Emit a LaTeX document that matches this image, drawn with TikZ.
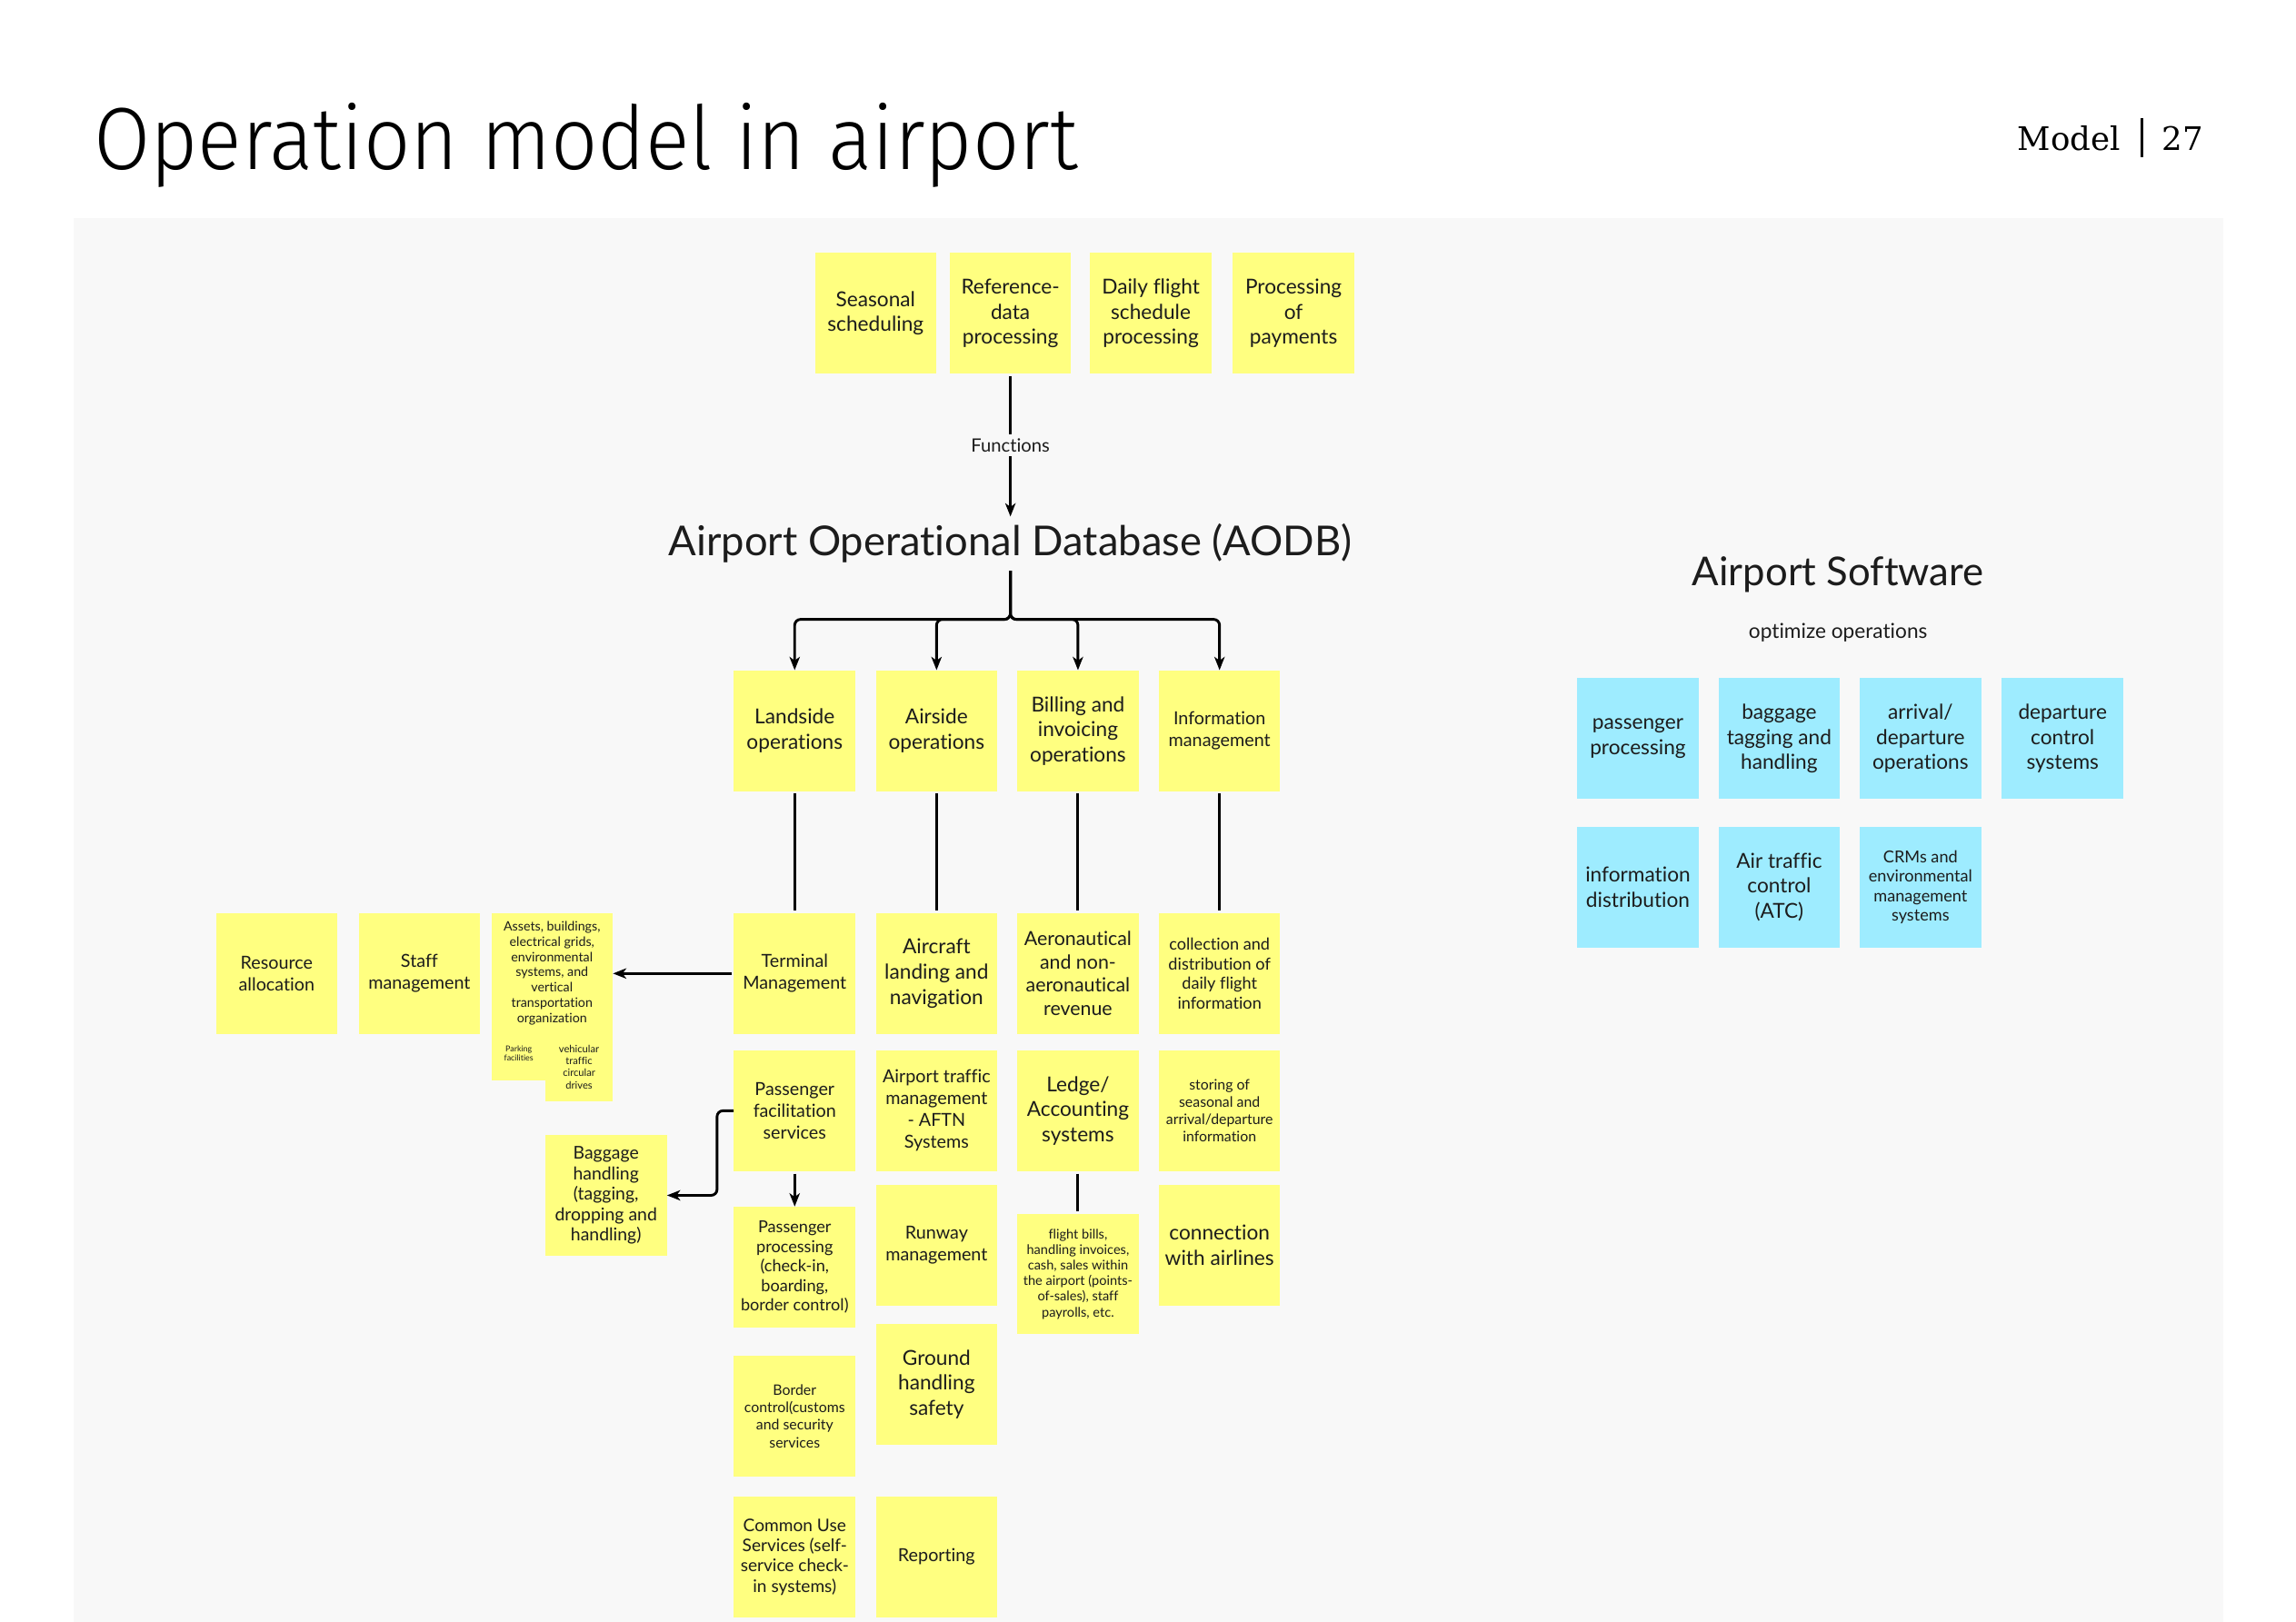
\documentclass[tikz,border=0pt]{standalone}
\usepackage{fontspec}
\setmainfont{Lato}[Ligatures=NoCommon]
\newfontfamily\headfont[FakeStretch=0.928]{Fira Sans Light}
\newfontfamily\pagefont{DejaVu Serif}
\usetikzlibrary{positioning,arrows.meta}

\definecolor{stickyyellow}{RGB}{255,255,128}
\definecolor{stickyblue}{RGB}{158,236,255}
\definecolor{panelgray}{RGB}{248,248,248}
\definecolor{ink}{RGB}{28,28,28}

\newcommand{\fs}[2]{\fontsize{#1}{#2}\selectfont}

\tikzset{
	sticky/.style={fill=stickyyellow, minimum width=82.5pt, minimum height=82pt, inner sep=0pt, align=center, text=ink},
	softbox/.style={sticky, fill=stickyblue},
	fA/.style={font=\fs{14}{17}},
	fB/.style={font=\fs{12.2}{14.8}},
	fC/.style={font=\fs{11.2}{13.3}},
	fD/.style={font=\fs{9.8}{11.8}},
	fE/.style={font=\fs{8.8}{10.4}},
	link/.style={line width=1.8pt, shorten <=1.5pt, shorten >=1.5pt},
	arr/.style={line width=1.8pt, shorten <=1.5pt, -{Stealth[length=9pt,width=7pt,inset=2.5pt]}},
}

\begin{document}
\begin{tikzpicture}[x=1pt, y=-1pt]
	\useasboundingbox (0,0) rectangle (1560.2,1102.5);
	\fill[panelgray] (50,148) rectangle (1510.5,1102.5);

	% header
	\node[anchor=base west, inner sep=0pt, font=\headfont\fontsize{60}{60}\selectfont] (title) at (63.5,115) {Operation model in airport};
	\node[anchor=base east, inner sep=0pt, font=\pagefont\fontsize{22}{22}\selectfont] (model) at (1441,102) {Model};
	\node[anchor=base west, inner sep=0pt, font=\pagefont\fontsize{22}{22}\selectfont] (page) at (1469,102) {27};
	\draw[line width=1.8pt] (1455.6,80) -- (1455.6,107);

	% functions
	\node[sticky, fA] (seas) at (595,213) {Seasonal\\scheduling};
	\node[sticky, fA] (refd) at (686.6,213) {Reference-\\data\\processing};
	\node[sticky, fA] (daily) at (782,213) {Daily flight\\schedule\\processing};
	\node[sticky, fA] (pay) at (879,213) {Processing\\of\\payments};

	\node[anchor=base, inner sep=5pt, text=ink, font=\fs{28}{30}] (aodb) at (686.6,378) {Airport Operational Database (AODB)};

	% operations
	\node[sticky, fA] (land) at (540,496.7) {Landside\\operations};
	\node[sticky, fA] (airs) at (636.4,496.7) {Airside\\operations};
	\node[sticky, fA] (bill) at (732.5,496.7) {Billing and\\invoicing\\operations};
	\node[sticky, fB] (infm) at (828.7,496.7) {Information\\management};

	\node[sticky, fB] (term) at (540,661.7) {Terminal\\Management};
	\node[sticky, fA] (acft) at (636.4,661.7) {Aircraft\\landing and\\navigation};
	\node[sticky, font=\fs{13.2}{15.8}] (aero) at (732.5,661.7) {Aeronautical\\and non-\\aeronautical\\revenue};
	\node[sticky, fC] (coll) at (828.7,661.7) {collection and\\distribution of\\daily flight\\information};

	\node[sticky, fB] (res) at (188,661.7) {Resource\\allocation};
	\node[sticky, fB] (staff) at (285,661.7) {Staff\\management};
	\node[sticky, minimum height=113.6pt] (assetsbg) at (375.1,677.6) {};
	\node[text=ink, align=center, inner sep=0pt, fE] (assets) at (375.1,661.5) {Assets, buildings,\\electrical grids,\\environmental\\systems, and\\vertical\\transportation\\organization};
	\node[text=ink, align=center, inner sep=0pt, font=\fs{5.5}{6.4}] (park) at (352.5,716.2) {Parking\\facilities};
	\node[sticky, minimum width=45.6pt, minimum height=46.4pt, font=\fs{6.9}{8.2}] (veh) at (393.5,725.2) {vehicular\\traffic\\circular\\drives};

	\node[sticky, fB] (pfac) at (540,755) {Passenger\\facilitation\\services};
	\node[sticky, fB] (atm) at (636.4,755) {Airport traffic\\management\\- AFTN\\Systems};
	\node[sticky, fA] (ledg) at (732.5,755) {Ledge/\\Accounting\\systems};
	\node[sticky, fD] (stor) at (828.7,755) {storing of\\seasonal and\\arrival/departure\\information};

	\node[sticky, font=\fs{12}{13.8}] (bag) at (411.8,812.5) {Baggage\\handling\\(tagging,\\dropping and\\handling)};

	\node[sticky, fC] (pproc) at (540,861.3) {Passenger\\processing\\(check-in,\\boarding,\\border control)};
	\node[sticky, fB] (runw) at (636.4,846.5) {Runway\\management};
	\node[sticky, font=\fs{9}{10.6}] (bills) at (732.5,866) {flight bills,\\handling invoices,\\cash, sales within\\the airport (points-\\of-sales), staff\\payrolls, etc.};
	\node[sticky, fA] (conn) at (828.7,846.5) {connection\\with airlines};

	\node[sticky, fD] (bord) at (540,962.7) {Border\\control(customs\\and security\\services};
	\node[sticky, fA] (grnd) at (636.4,941) {Ground\\handling\\safety};

	\node[sticky, font=\fs{11.8}{13.8}] (comm) at (540,1058.3) {Common Use\\Services (self-\\service check-\\in systems)};
	\node[sticky, fB] (rept) at (636.4,1058.3) {Reporting};

	% software
	\node[anchor=base, inner sep=0pt, text=ink, font=\fs{27}{30}] (soft) at (1249,397.8) {Airport Software};
	\node[anchor=base, inner sep=0pt, text=ink, font=\fs{14}{16}] (optm) at (1249,434) {optimize operations};

	\node[softbox, fA] (spax) at (1113,502) {passenger\\processing};
	\node[softbox, fA] (sbag) at (1209,502) {baggage\\tagging and\\handling};
	\node[softbox, fA] (sarr) at (1305,502) {arrival/\\departure\\operations};
	\node[softbox, fA] (sdep) at (1401.6,502) {departure\\control\\systems};
	\node[softbox, fA] (sinf) at (1113,603) {information\\distribution};
	\node[softbox, fA] (satc) at (1209,603) {Air traffic\\control\\(ATC)};
	\node[softbox, fC] (scrm) at (1305,603) {CRMs and\\environmental\\management\\systems};

	% connectors
	\draw[arr] (refd.south) -- node[fill=panelgray, inner sep=3pt, text=ink, font=\fs{12.5}{14}] (fnlabel) {Functions} (aodb.north);
	\coordinate (bus) at (686.6,421);
	\foreach \t in {land,airs,bill,infm}
		\draw[arr, rounded corners=4pt, shorten <=0pt] (aodb.south) -- (bus) -| (\t.north);
	\foreach \a/\b in {land/term, airs/acft, bill/aero, infm/coll}
		\draw[link] (\a.south) -- (\b.north);
	\draw[arr] (term.west) -- (term.west -| assetsbg.east);
	\draw[arr, rounded corners=4pt, shorten <=0pt] (pfac.west) -- ++(-11.3,0) |- (bag.east);
	\draw[arr] (pfac.south) -- (pproc.north);
	\draw[link] (ledg.south) -- (bills.north);
\end{tikzpicture}
\end{document}
